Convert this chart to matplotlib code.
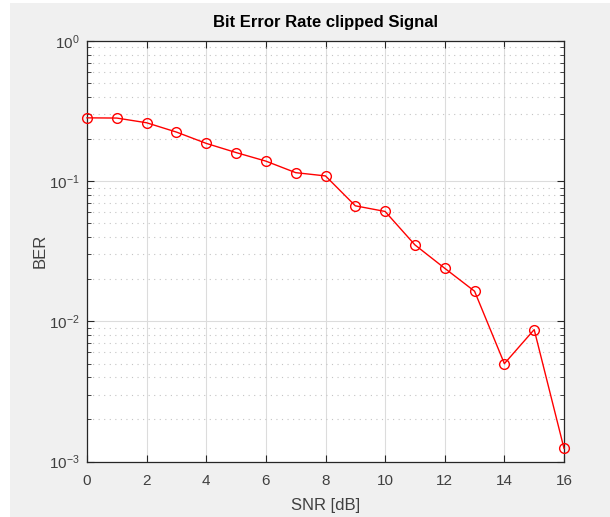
import matplotlib
matplotlib.use('Agg')
import matplotlib.pyplot as plt
from matplotlib.patches import Rectangle
from matplotlib.ticker import LogLocator, NullFormatter

# BER vs SNR
snr_db = [0, 1, 2, 3, 4, 5, 6, 7, 8, 9, 10, 11, 12, 13, 14, 15, 16]
ber = [0.283, 0.282, 0.261, 0.224, 0.186, 0.160, 0.139, 0.115, 0.109,
       0.0667, 0.0608, 0.0351, 0.0239, 0.0164, 0.00499, 0.00873, 0.00124]
x_ticks = [0, 2, 4, 6, 8, 10, 12, 14, 16]

BG = "#F0F0F0"
TXT = "#404040"

plt.rcParams['font.family'] = ['Liberation Sans', 'DejaVu Sans']

fig = plt.figure(figsize=(6.1, 5.17), dpi=100, facecolor="white")
# screenshot-style gray panel with thin white margin on left/top
fig.patches.append(Rectangle((10 / 610, 0), 1 - 10 / 610, 1 - 3 / 517,
                             transform=fig.transFigure, facecolor=BG,
                             edgecolor="none", zorder=-1))

ax = fig.add_axes([87 / 610, 1 - 461.5 / 517, 477 / 610, 420.5 / 517])
ax.set_facecolor("white")
ax.semilogy(snr_db, ber, color="#FF0000", lw=1.0, marker="o", ms=7,
            mfc="none", mec="#FF0000", mew=1.0, clip_on=False, zorder=3)

ax.set_xlim(0, 16)
ax.set_ylim(1e-3, 1)
ax.set_xticks(x_ticks)
ax.yaxis.set_major_locator(LogLocator(base=10, numticks=10))
ax.yaxis.set_minor_locator(LogLocator(base=10, subs=range(2, 10), numticks=20))
ax.yaxis.set_minor_formatter(NullFormatter())

ax.grid(True, which="major", color="#DCDCDC", lw=0.8, ls="-")
ax.grid(True, which="minor", axis="y", color="#C4C4C4", lw=0.8, ls=(0, (1, 4)))
ax.set_axisbelow(True)

for s in ax.spines.values():
    s.set_color("#262626")
    s.set_linewidth(0.9)
ax.tick_params(which="both", direction="in", top=True, right=True,
               colors="#262626", labelcolor=TXT, labelsize=11)
ax.tick_params(which="major", length=5)
ax.tick_params(which="minor", length=3)
ax.tick_params(axis="x", pad=9)
ax.tick_params(axis="y", pad=5)

ax.set_xlabel("SNR [dB]", fontsize=12, color=TXT, labelpad=7)
ax.set_ylabel("BER", fontsize=12, color=TXT, labelpad=1)
ax.set_title("Bit Error Rate clipped Signal", fontsize=12, fontweight="bold",
             color="black", pad=10)

plt.savefig("out.png", dpi=100, facecolor=fig.get_facecolor())
plt.close()
